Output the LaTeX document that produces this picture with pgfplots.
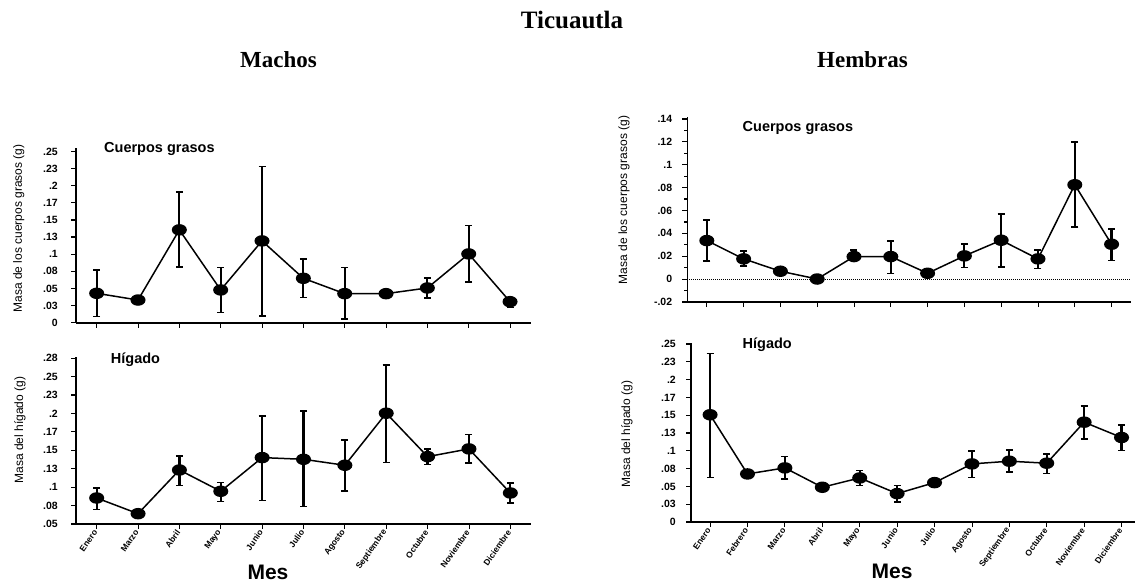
\documentclass[border=0pt]{standalone}
\usepackage{pgfplots}
\pgfplotsset{compat=1.18}
\usepackage{fontspec}
\setmainfont{Liberation Serif}
\newfontfamily\arial{Liberation Sans}

\pgfplotstableread{
x y ep em
0 0.0429 0.0341 0.0341
1 0.0331 0 0
2 0.1355 0.0550 0.0546
3 0.0478 0.0326 0.0332
4 0.1194 0.1086 0.1092
5 0.0648 0.0283 0.0278
6 0.0424 0.0380 0.0370
7 0.0424 0 0
8 0.0507 0.0146 0.0147
9 0.1004 0.0414 0.0409
10 0.0307 0.0058 0.0083
}\mcg
\pgfplotstableread{
x y ep em
0 0.0853 0.0136 0.0158
1 0.0640 0 0
2 0.1233 0.0190 0.0208
3 0.0944 0.0117 0.0136
4 0.1401 0.0566 0.0584
5 0.1378 0.0652 0.0638
6 0.1297 0.0344 0.0353
7 0.2003 0.0657 0.0666
8 0.1414 0.0105 0.0108
9 0.1519 0.0194 0.0195
10 0.0921 0.0136 0.0140
}\mhi
\pgfplotstableread{
x y ep em
0 0.0337 0.0178 0.0178
1 0.0177 0.0067 0.0062
2 0.0069 0 0
3 0.0001 0 0
4 0.0197 0.0056 0.0035
5 0.0197 0.0137 0.0149
6 0.0051 0 0
7 0.0203 0.0102 0.0102
8 0.0340 0.0231 0.0233
9 0.0177 0.0076 0.0085
10 0.0825 0.0374 0.0371
11 0.0305 0.0134 0.0143
}\hcg
\pgfplotstableread{
x y ep em
0 0.1506 0.0858 0.0882
1 0.0675 0 0
2 0.0760 0.0159 0.0155
3 0.0488 0 0
4 0.0619 0.0103 0.0108
5 0.0399 0.0112 0.0122
6 0.0553 0 0
7 0.0816 0.0178 0.0192
8 0.0854 0.0154 0.0150
9 0.0826 0.0131 0.0146
10 0.1402 0.0230 0.0239
11 0.1187 0.0173 0.0183
}\hhi

\pgfplotsset{
  every error bar/.style={line width=2.2pt, black, solid},
  panel/.style={
    scale only axis,
    axis lines=left,
    axis line style={-, line width=1.6pt},
    tick align=outside,
    major tick length=5pt,
    minor tick length=3pt,
    ytick style={line width=1.2pt, black},
    xtick style={line width=0.8pt, black},
    yticklabel style={font=\arial\bfseries\fontsize{10.5}{12}\selectfont, inner sep=1pt},
    xticklabel style={font=\arial\bfseries\fontsize{8.5}{10}\selectfont, rotate=55, anchor=east, inner sep=2pt},
    clip=false,
  },
  ser/.style={black, line width=1.5pt, mark=*, mark size=5pt,
    mark options={xscale=1.35, fill=black, solid},
    error bars/.cd, y dir=both, y explicit,
    error bar style={line width=2.2pt, black, solid},
    error mark=-,
    error mark options={rotate=90, mark size=3.5pt, line width=1.6pt, black}},
}

\begin{document}
\begin{tikzpicture}[x=1pt,y=1pt]
\useasboundingbox (0,0) rectangle (1135,582);

% Left top: Machos, cuerpos grasos
\begin{axis}[panel, at={(76pt,259.3pt)}, anchor=south west,
  width=454.7pt, height=174.7pt,
  xmin=-0.5, xmax=10.5, ymin=0, ymax=0.255,
  xtick={0,...,10}, xticklabels={},
  yticklabel style={xshift=-12pt},
  ytick={0,0.025,0.05,0.075,0.1,0.125,0.15,0.175,0.2,0.225,0.25},
  yticklabels={0,.03,.05,.08,.1,.13,.15,.17,.2,.23,.25}]
\addplot[ser] table[x=x, y=y, y error plus=ep, y error minus=em] {\mcg};
\end{axis}

% Left bottom: Machos, higado
\begin{axis}[panel, at={(76pt,58pt)}, anchor=south west,
  width=455pt, height=167.3pt,
  xmin=-0.5, xmax=10.5, ymin=0.05, ymax=0.277,
  xtick={0,...,10},
  yticklabel style={xshift=-12pt},
  xticklabels={Enero,Marzo,Abril,Mayo,Junio,Julio,Agosto,Septiembre,Octubre,Noviembre,Diciembre},
  ytick={0.05,0.075,0.1,0.125,0.15,0.175,0.2,0.225,0.25,0.275},
  yticklabels={.05,.08,.1,.13,.15,.17,.2,.23,.25,.28}]
\addplot[ser] table[x=x, y=y, y error plus=ep, y error minus=em] {\mhi};
\end{axis}

% Right top: Hembras, cuerpos grasos
\begin{axis}[panel, at={(687.3pt,280pt)}, anchor=south west,
  width=443.4pt, height=185.3pt,
  xmin=-0.53, xmax=11.52, ymin=-0.02, ymax=0.142,
  xtick={0,...,11}, xticklabels={},
  yticklabel style={xshift=-9pt},
  ytick={-0.02,0,0.02,0.04,0.06,0.08,0.1,0.12,0.14},
  yticklabels={-.02,0,.02,.04,.06,.08,.1,.12,.14},
  minor y tick num=1]
\draw[black, line width=1.2pt, dash pattern=on 1pt off 1pt] (axis cs:-0.53,0) -- (axis cs:11.52,0);
\addplot[ser] table[x=x, y=y, y error plus=ep, y error minus=em] {\hcg};
\end{axis}

% Right bottom: Hembras, higado
\begin{axis}[panel, at={(691pt,60pt)}, anchor=south west,
  width=444pt, height=178.7pt,
  xmin=-0.51, xmax=11.36, ymin=0, ymax=0.251,
  xtick={0,...,11},
  yticklabel style={xshift=-9pt},
  xticklabels={Enero,Febrero,Marzo,Abril,Mayo,Junio,Julio,Agosto,Septiembre,Octubre,Noviembre,Diciembre},
  ytick={0,0.025,0.05,0.075,0.1,0.125,0.15,0.175,0.2,0.225,0.25},
  yticklabels={0,.03,.05,.08,.1,.13,.15,.17,.2,.23,.25}]
\addplot[ser] table[x=x, y=y, y error plus=ep, y error minus=em] {\hhi};
\end{axis}

% Titles
\node[anchor=base, font=\bfseries\fontsize{25}{28}\selectfont] at (572pt,553pt) {Ticuautla};
\node[anchor=base, font=\bfseries\fontsize{23}{26}\selectfont] at (278.5pt,514pt) {Machos};
\node[anchor=base, font=\bfseries\fontsize{23}{26}\selectfont] at (862.5pt,514pt) {Hembras};

% Panel labels
\node[anchor=base west, inner sep=0pt, font=\arial\bfseries\fontsize{14.5}{16}\selectfont] at (104pt,429pt) {Cuerpos grasos};
\node[anchor=base west, inner sep=0pt, font=\arial\bfseries\fontsize{14.5}{16}\selectfont] at (742.5pt,450.3pt) {Cuerpos grasos};
\node[anchor=base west, inner sep=0pt, font=\arial\bfseries\fontsize{14.5}{16}\selectfont] at (110.7pt,218.7pt) {Hígado};
\node[anchor=base west, inner sep=0pt, font=\arial\bfseries\fontsize{14.5}{16}\selectfont] at (742.5pt,233.7pt) {Hígado};

% Y labels
\node[rotate=90, font=\arial\fontsize{12}{14}\selectfont] at (18.75pt,353.5pt) {Masa de los cuerpos grasos (g)};
\node[rotate=90, font=\arial\fontsize{12}{14}\selectfont] at (20pt,152pt) {Masa del hígado (g)};
\node[rotate=90, font=\arial\fontsize{12}{14}\selectfont] at (624pt,382pt) {Masa de los cuerpos grasos (g)};
\node[rotate=90, font=\arial\fontsize{12}{14}\selectfont] at (627pt,148pt) {Masa del hígado (g)};

% X labels
\node[anchor=base, inner sep=0pt, font=\arial\bfseries\fontsize{21}{24}\selectfont] at (268pt,3pt) {Mes};
\node[anchor=base, inner sep=0pt, font=\arial\bfseries\fontsize{21}{24}\selectfont] at (892pt,4pt) {Mes};
\end{tikzpicture}
\end{document}
